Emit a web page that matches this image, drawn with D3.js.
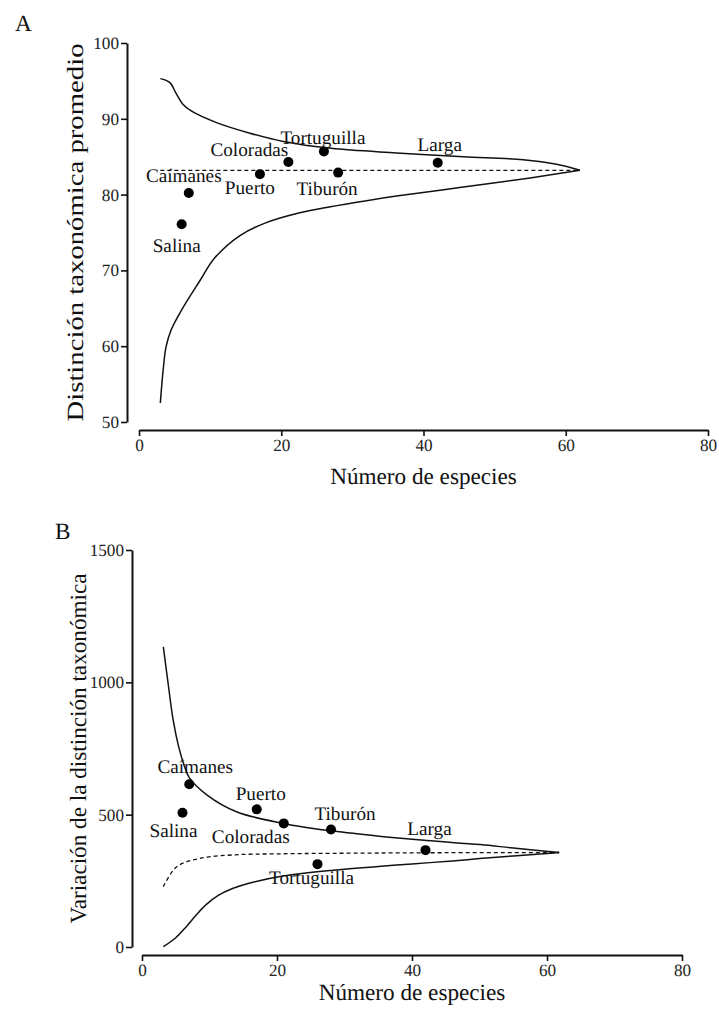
<!DOCTYPE html>
<html>
<head>
<meta charset="utf-8">
<script src="https://cdn.jsdelivr.net/npm/d3@7"></script>
<style>
  body { margin: 0; background: #fff; }
  svg text { text-rendering: geometricPrecision; }
</style>
</head>
<body>
<div id="chart"></div>
<script>
// sites and their values
var sites = ["Caímanes", "Salina", "Puerto", "Coloradas", "Tortuguilla", "Tiburón", "Larga"];
var speciesN = [7, 6, 17, 21, 26, 28, 42];
var deltaPlus = [80.2, 76.1, 82.7, 84.3, 85.7, 82.9, 84.2];   // panel A
var lambdaPlus = [615, 507, 520, 467, 313, 444, 366];          // panel B

// panel A funnel (95% limits) and mean
var upAx = [3, 4.3, 5.2, 6.1, 7.4, 10.9, 15.6, 20.3, 27, 36.2, 45.6, 54, 58.7, 62];
var upAy = [95.3, 94.8, 93.4, 92.0, 91.0, 89.5, 88.1, 87.0, 86.1, 85.5, 85.0, 84.6, 84.0, 83.2];
var loAx = [3, 3.4, 3.8, 4.5, 6, 8.6, 10.6, 14.2, 17.9, 22.6, 26.9, 32, 36.2, 45.6, 55, 62];
var loAy = [52.5, 56.9, 59.9, 62.1, 64.8, 68.7, 71.6, 74.6, 76.3, 77.6, 78.4, 79.2, 79.8, 81.0, 82.2, 83.2];
var meanAx = [3, 62];
var meanAy = [83.2, 83.2];

// panel B funnel and mean
var upBx = [3.16, 3.9, 4.6, 5.4, 6.2, 7.0, 9.6, 14, 20.9, 28.3, 36.2, 42.2, 50.1, 55, 61.8];
var upBy = [1134, 990, 860, 760, 690, 640, 575, 511, 467, 438, 416, 402, 387, 374, 357];
var loBx = [3.16, 5, 6.5, 8, 9.5, 11.3, 13.5, 16, 20.9, 28.3, 35, 40, 46, 50, 55, 59, 61.8];
var loBy = [1, 35, 75, 120, 160, 195, 222, 242, 268, 290, 304, 314, 325, 334, 344, 351, 357];
var meanBx = [3.16, 5.14, 8.6, 13.5, 20, 28.3, 42, 61.8];
var meanBy = [228, 303, 335, 348, 352, 354, 356, 357];

var xTicks = [0, 20, 40, 60, 80];
var yTicksA = [50, 60, 70, 80, 90, 100];
var yTicksB = [0, 500, 1000, 1500];

// label offsets (px) from each point
var labA = [[-5, -11], [-5, 28], [-10, 20], [-39, -6], [-1, -7], [-11, 22], [2, -12]];
var labB = [[6, -11], [-9, 24], [4, -9], [-33, 20], [-6, 20], [14, -9], [4, -15]];

var serif = "'Liberation Serif', 'Times New Roman', serif";

var svg = d3.select("#chart").append("svg").attr("width", 719).attr("height", 1010)
	.style("font-family", serif);

function zip(xs, ys) { return xs.map(function(x, i) { return [x, ys[i]]; }); }

function panel(conf) {
	var g = svg.append("g");
	var x = d3.scaleLinear().domain([0, 80]).range(conf.xr);
	var y = d3.scaleLinear().domain(conf.yd).range(conf.yr);

	var xa = g.append("g").attr("transform", "translate(0," + conf.xAxisY + ")")
		.call(d3.axisBottom(x).tickValues(xTicks).tickSize(6).tickSizeOuter(0).tickPadding(3));
	var ya = g.append("g").attr("transform", "translate(" + conf.yAxisX + ",0)")
		.call(d3.axisLeft(y).tickValues(conf.yt).tickFormat(d3.format("d")).tickSize(6).tickSizeOuter(0).tickPadding(2));
	[xa, ya].forEach(function(a) {
		a.attr("font-family", null).attr("font-size", null);
		a.select(".domain").attr("stroke", "#111").attr("stroke-width", 2);
		a.selectAll(".tick line").attr("stroke", "#111").attr("stroke-width", 1.6);
		a.selectAll(".tick text").attr("fill", "#222")
			.style("font-family", serif).style("font-size", "17.2px");
	});

	var line = d3.line().x(function(d) { return x(d[0]); }).y(function(d) { return y(d[1]); })
		.curve(d3.curveCatmullRom.alpha(0.5));

	g.append("path").attr("d", line(conf.mean)).attr("fill", "none")
		.attr("stroke", "#111").attr("stroke-width", 1.3).attr("stroke-dasharray", "4,3");
	g.append("path").attr("d", line(conf.up)).attr("fill", "none")
		.attr("stroke", "#111").attr("stroke-width", 1.5);
	g.append("path").attr("d", line(conf.lo)).attr("fill", "none")
		.attr("stroke", "#111").attr("stroke-width", 1.5);

	g.selectAll("circle.pt").data(conf.vals).enter().append("circle")
		.attr("cx", function(d, i) { return x(speciesN[i]); })
		.attr("cy", function(d) { return y(d); })
		.attr("r", 5).attr("fill", "#000");

	g.selectAll("text.lab").data(sites).enter().append("text")
		.attr("x", function(d, i) { return x(speciesN[i]) + conf.lab[i][0]; })
		.attr("y", function(d, i) { return y(conf.vals[i]) + conf.lab[i][1]; })
		.attr("text-anchor", "middle")
		.style("font-family", serif).style("font-size", "19.2px").attr("fill", "#111")
		.text(function(d) { return d; });

	g.append("text").attr("x", (conf.xr[0] + conf.xr[1]) / 2).attr("y", conf.xTitleY)
		.attr("text-anchor", "middle").style("font-family", serif).style("font-size", "23.2px")
		.attr("fill", "#111").text("Número de especies");
	g.append("text")
		.attr("transform", "translate(" + conf.yTitleX + "," + (conf.yr[0] + conf.yr[1]) / 2 + ") rotate(-90)")
		.attr("text-anchor", "middle").style("font-family", serif).style("font-size", "23.2px")
		.attr("fill", "#111")
		.attr("textLength", conf.yTitleLen).attr("lengthAdjust", "spacingAndGlyphs")
		.text(conf.yTitle);
	g.append("text").attr("x", conf.letter[0]).attr("y", conf.letter[1])
		.style("font-family", serif).style("font-size", "23.2px").attr("fill", "#111").text(conf.name);
}

panel({
	name: "A", letter: [15, 31],
	xr: [139, 708], yd: [50, 100], yr: [422, 43], yt: yTicksA,
	xAxisY: 430, yAxisX: 127, xTitleY: 484, yTitleX: 83, yTitleLen: 378,
	yTitle: "Distinción taxonómica promedio",
	vals: deltaPlus, lab: labA,
	up: zip(upAx, upAy), lo: zip(loAx, loAy), mean: zip(meanAx, meanAy)
});

panel({
	name: "B", letter: [55, 539],
	xr: [142, 682], yd: [0, 1500], yr: [947, 550], yt: yTicksB,
	xAxisY: 955, yAxisX: 132, xTitleY: 1000, yTitleX: 86, yTitleLen: 350,
	yTitle: "Variación de la distinción taxonómica",
	vals: lambdaPlus, lab: labB,
	up: zip(upBx, upBy), lo: zip(loBx, loBy), mean: zip(meanBx, meanBy)
});
</script>
</body>
</html>
